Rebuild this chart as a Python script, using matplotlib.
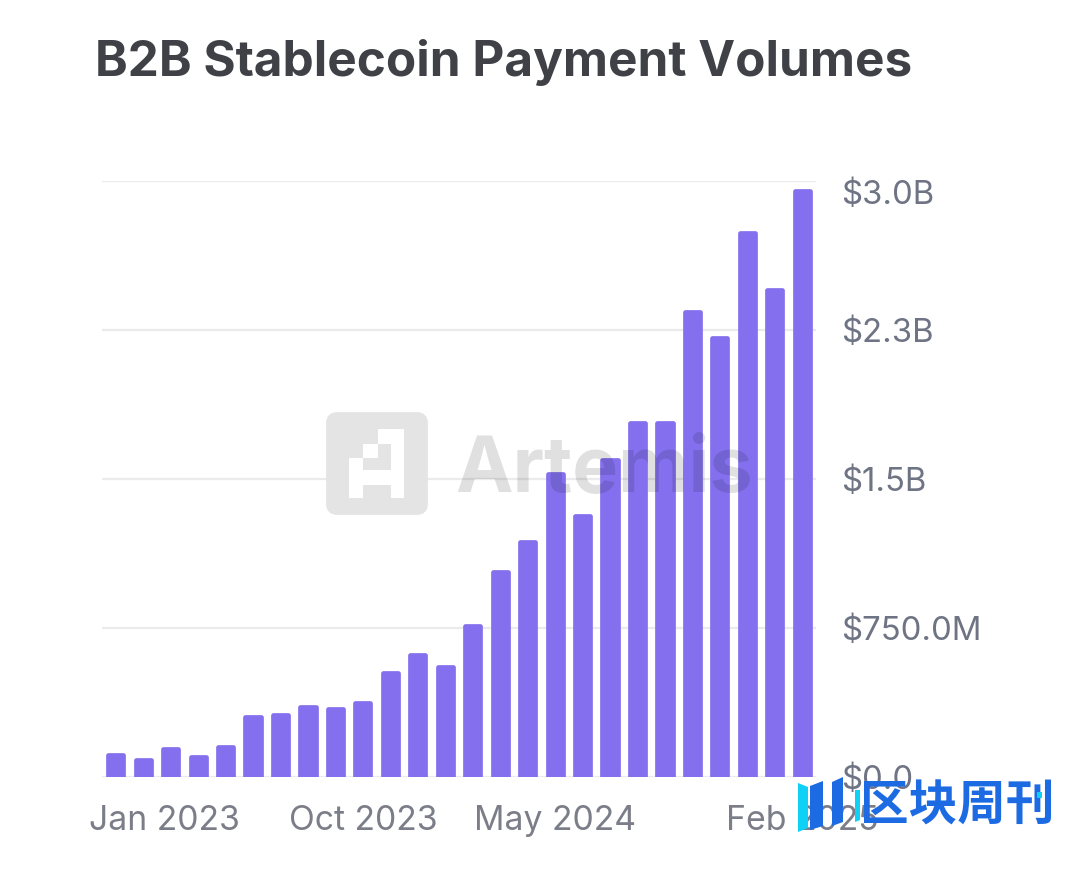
#!/usr/bin/env python3

import numpy as np
from matplotlib import pyplot as plt
from matplotlib.patches import FancyBboxPatch, Polygon
from matplotlib.transforms import Affine2D, ScaledTranslation

months = ["Jan 2023", "Feb 2023", "Mar 2023", "Apr 2023", "May 2023", "Jun 2023", "Jul 2023",
          "Aug 2023", "Sep 2023", "Oct 2023", "Nov 2023", "Dec 2023", "Jan 2024", "Feb 2024",
          "Mar 2024", "Apr 2024", "May 2024", "Jun 2024", "Jul 2024", "Aug 2024", "Sep 2024",
          "Oct 2024", "Nov 2024", "Dec 2024", "Jan 2025", "Feb 2025"]
# volumes in $B
volumes = [0.11, 0.087, 0.142, 0.102, 0.152, 0.302, 0.312, 0.352, 0.342, 0.372, 0.522, 0.612, 0.552,
           0.762, 1.032, 1.182, 1.525, 1.315, 1.595, 1.78, 1.78, 2.34, 2.21, 2.74, 2.45, 2.95]
ytick_values = [0, 0.75, 1.5, 2.25, 3.0]
ytick_labels = ["$0.0", "$750.0M", "$1.5B", "$2.3B", "$3.0B"]
xtick_labels = ["Jan 2023", "Oct 2023", "May 2024", "Feb 2025"]

BAR = "#8470ee"
GRID = "#ebebee"
YTICK = "#6f7484"
XTICK = "#7b7e88"
W, H = 1080, 875

plt.rcParams["font.family"] = ["Inter", "DejaVu Sans"]
fig = plt.figure(figsize=(W / 100, H / 100), dpi=100)
ax = fig.add_axes([102 / W, 1 - 777 / H, 714 / W, 596 / H])

indexes = np.arange(len(months))
ax.bar(indexes, volumes, width=0.55, color=BAR, edgecolor=BAR, linewidth=3.4,
       joinstyle="round", zorder=3)
ax.set_xlim(-0.5, 25.5)
ax.set_ylim(0, 3.0)
ax.grid(axis="y", color=GRID, linewidth=1.6)
ax.set_axisbelow(True)
for s in ax.spines.values():
    s.set_visible(False)

ax.yaxis.tick_right()
ax.set_yticks(ytick_values, ytick_labels)
ax.tick_params(axis="y", length=0, pad=18, labelsize=23.7, labelcolor=YTICK)
ax.set_xticks([months.index(m) for m in xtick_labels], xtick_labels)
ax.tick_params(axis="x", length=0, pad=20, labelsize=24.3, labelcolor=XTICK)

# first x label and top y label get pushed inside, same as the original
ax.get_xticklabels()[0].set_transform(
    ax.get_xticklabels()[0].get_transform() + ScaledTranslation(0.49, 0, fig.dpi_scale_trans))
ax.get_yticklabels()[-1].set_transform(
    ax.get_yticklabels()[-1].get_transform() + ScaledTranslation(0, -0.11, fig.dpi_scale_trans))

fig.text(95 / W, 1 - 63 / H, "B2B Stablecoin Payment Volumes", fontsize=35.6, fontweight="bold",
         color="#3f4146", va="center", ha="left")

# pixel coordinates for the decorations, y going down
px = Affine2D().scale(1, -1).translate(0, H)


def shape(points, color, alpha=1.0, z=5):
    fig.add_artist(Polygon(points, closed=True, transform=px, facecolor=color,
                           edgecolor="none", alpha=alpha, zorder=z))


# Artemis watermark
fig.add_artist(FancyBboxPatch((331, 417), 92, 93, boxstyle="round,pad=0,rounding_size=6",
                              mutation_scale=1, transform=px, facecolor="#e4e4e4",
                              edgecolor="#e4e4e4", linewidth=7, zorder=5))
shape([(378, 429), (404, 429), (404, 498), (391, 498), (391, 485), (363, 485), (363, 498),
       (349, 498), (349, 458), (363, 458), (363, 444), (378, 444)], "white", z=6)
shape([(378, 444), (391, 444), (391, 470), (363, 470), (363, 458), (378, 458)], "#e4e4e4", z=7)
fig.text(455 / W, 1 - 491 / H, "Artemis", fontsize=55.5, fontweight="bold", color="black",
         alpha=0.12, ha="left", va="baseline", zorder=5)

# 区块周刊 logo
shape([(798, 783), (808, 787), (808, 828), (798, 832)], "#0fd0f5", z=8)
shape([(810, 830), (823, 826), (823, 781), (810, 786)], "#1d6be3", z=8)
shape([(832, 826), (843, 822), (843, 777), (832, 782)], "#1d6be3", z=8)
shape([(855, 790), (860, 790), (860, 820), (855, 822)], "#0fd0f5", z=8)
fig.text(860 / W, 1 - 806 / H, "区块周刊", fontsize=35, fontweight="bold", color="#1d6be3",
         family=["Noto Sans CJK SC", "DejaVu Sans"], ha="left", va="center", zorder=8)
shape([(1037, 792), (1042, 792), (1042, 798), (1037, 798)], "#0fd0f5", z=9)

fig.savefig("out.png", dpi=100, facecolor="white")
